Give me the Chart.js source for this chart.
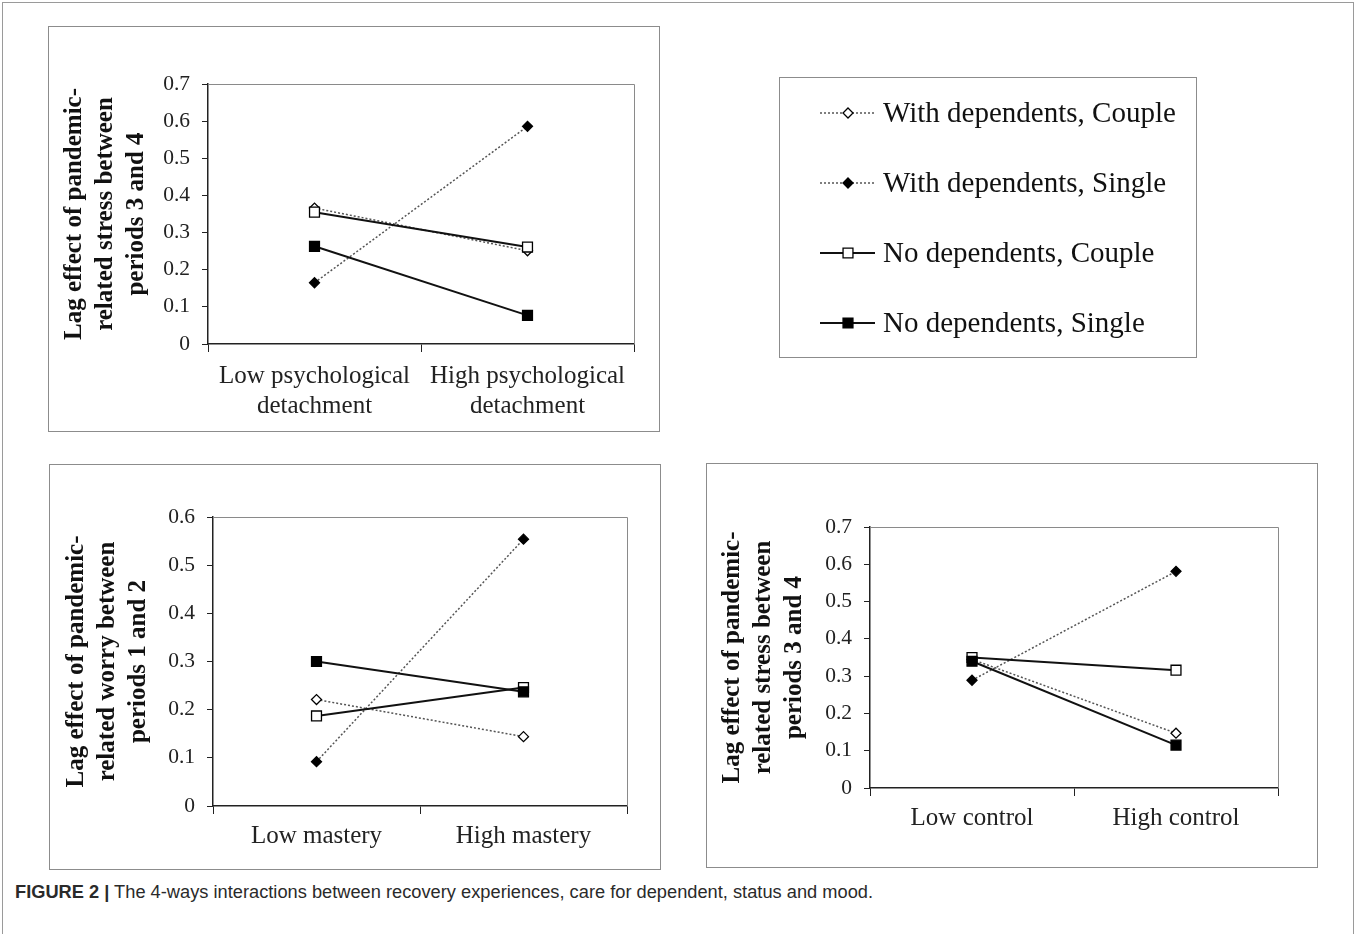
<!DOCTYPE html>
<html><head><meta charset="utf-8">
<script src="https://cdn.jsdelivr.net/npm/chart.js@4.4.0/dist/chart.umd.min.js"></script>
<style>
html,body{margin:0;padding:0;background:#fff;}
body{width:1357px;height:939px;position:relative;overflow:hidden;font-family:"Liberation Serif",serif;}
.page{position:absolute;left:2px;top:2px;width:1352px;height:932px;border:1px solid #9a9a9a;border-bottom:none;box-sizing:border-box;}
.frame{position:absolute;border:1.5px solid #8c8c8c;box-sizing:border-box;}
canvas{position:absolute;}
#caption{position:absolute;left:15px;top:882px;font-family:"Liberation Sans",Arial,sans-serif;font-size:17.5px;color:#2a2a2a;white-space:nowrap;transform-origin:0 0;}
</style></head><body>
<div class="page"></div>
<div class="frame" style="left:48px;top:26px;width:612px;height:406px;"></div>
<div class="frame" style="left:49px;top:464px;width:612px;height:406px;"></div>
<div class="frame" style="left:706px;top:463px;width:612px;height:405px;"></div>
<div class="frame" style="left:779px;top:77px;width:418px;height:281px;"></div>
<canvas id="c1" width="611" height="405" style="left:48px;top:26px;"></canvas>
<canvas id="c2" width="611" height="405" style="left:49px;top:464px;"></canvas>
<canvas id="c3" width="611" height="405" style="left:706px;top:463px;"></canvas>
<canvas id="legend" width="416" height="279" style="left:780px;top:78px;"></canvas>
<div id="caption"><b>FIGURE 2 |</b> The 4-ways interactions between recovery experiences, care for dependent, status and mood.</div>
<script>
// ---------- data ----------
const seriesNames = ['With dependents, Couple','With dependents, Single','No dependents, Couple','No dependents, Single'];

const detachLabels = [['Low psychological','detachment'],['High psychological','detachment']];
const detachWithDepCouple = [0.366, 0.251];
const detachWithDepSingle = [0.165, 0.586];
const detachNoDepCouple   = [0.355, 0.261];
const detachNoDepSingle   = [0.263, 0.077];
const detachTitle = ['Lag effect of pandemic-','related stress between','periods 3 and 4'];
const detachYMax = 0.7;

const masteryLabels = ['Low mastery','High mastery'];
const masteryWithDepCouple = [0.221, 0.144];
const masteryWithDepSingle = [0.092, 0.554];
const masteryNoDepCouple   = [0.187, 0.246];
const masteryNoDepSingle   = [0.300, 0.237];
const masteryTitle = ['Lag effect of pandemic-','related worry between','periods 1 and 2'];
const masteryYMax = 0.6;

const controlLabels = ['Low control','High control'];
const controlWithDepCouple = [0.345, 0.147];
const controlWithDepSingle = [0.289, 0.581];
const controlNoDepCouple   = [0.350, 0.316];
const controlNoDepSingle   = [0.340, 0.115];
const controlTitle = ['Lag effect of pandemic-','related stress between','periods 3 and 4'];
const controlYMax = 0.7;

const yStep = 0.1;

// ---------- styles ----------
const seriesStyle = [
  {dash:[2,2], color:'#555', width:1.5, point:'rectRot', fill:'#fff', r:5, order:4},
  {dash:[2,2], color:'#555', width:1.5, point:'rectRot', fill:'#000', r:5, order:3},
  {dash:[],    color:'#111', width:2,   point:'rect',    fill:'#fff', r:7, order:2},
  {dash:[],    color:'#111', width:2,   point:'rect',    fill:'#000', r:7, order:1}
];
const serif = '"Liberation Serif", "Times New Roman", serif';

const plotBorder = {
  id:'plotBorder',
  beforeDatasetsDraw(chart){
    const {ctx, chartArea:a} = chart;
    ctx.save();
    ctx.strokeStyle = '#8a8a8a'; ctx.lineWidth = 1;
    ctx.beginPath();
    ctx.moveTo(a.left, Math.round(a.top)+0.5);
    ctx.lineTo(Math.round(a.right)+0.5, Math.round(a.top)+0.5);
    ctx.lineTo(Math.round(a.right)+0.5, a.bottom);
    ctx.stroke();
    ctx.restore();
  }
};

function makeChart(id, labels, series, yMax, yTitle, g){
  return new Chart(document.getElementById(id), {
    type:'line',
    data:{
      labels: labels,
      datasets: series.map((d,i)=>{
        const s = seriesStyle[i];
        return {
          label: seriesNames[i], data: d, order: s.order,
          borderColor: s.color, borderWidth: s.width, borderDash: s.dash,
          pointStyle: s.point, pointRadius: s.r, pointHoverRadius: s.r,
          pointBackgroundColor: s.fill, pointBorderColor: '#000', pointBorderWidth: 1.3,
          tension: 0, fill: false, clip: false
        };
      })
    },
    options:{
      responsive:false, animation:false, devicePixelRatio:1, events:[],
      layout:{padding:{top:g.top, right:g.right, left:0, bottom:0}},
      plugins:{legend:{display:false}, tooltip:{enabled:false}},
      scales:{
        x:{
          type:'category', offset:true,
          grid:{offset:true, drawOnChartArea:false, drawTicks:true, tickLength:8, color:'#222', lineWidth:1},
          border:{display:true, color:'#222', width:1.5},
          ticks:{font:{family:serif, size:25, lineHeight:'30px'}, color:'#222', padding:g.xpad, maxRotation:0, autoSkip:false},
          afterFit(s){ s.height = g.xh; }
        },
        y:{
          min:0, max:yMax,
          ticks:{stepSize:yStep, font:{family:serif, size:21.5}, color:'#222', padding:12,
                 callback:v => (Math.abs(v) < 1e-9 ? '0' : v.toFixed(1))},
          grid:{drawOnChartArea:false, drawTicks:true, tickLength:6, color:'#222', lineWidth:1},
          border:{display:true, color:'#222', width:1.5},
          title:{display:true, text:yTitle, color:'#111',
                 font:{family:serif, size:25, weight:'bold', lineHeight:'31px'},
                 padding:{top:g.tpad, bottom:0}},
          afterFit(s){ s.width = g.yw; }
        }
      }
    },
    plugins:[plotBorder]
  });
}

makeChart('c1', detachLabels,
  [detachWithDepCouple, detachWithDepSingle, detachNoDepCouple, detachNoDepSingle],
  detachYMax, detachTitle, {top:58, right:25, yw:160, xh:87, xpad:9, tpad:11.5});
makeChart('c2', masteryLabels,
  [masteryWithDepCouple, masteryWithDepSingle, masteryNoDepCouple, masteryNoDepSingle],
  masteryYMax, masteryTitle, {top:53, right:33, yw:164, xh:63, xpad:7, tpad:12.5});
makeChart('c3', controlLabels,
  [controlWithDepCouple, controlWithDepSingle, controlNoDepCouple, controlNoDepSingle],
  controlYMax, controlTitle, {top:64, right:39, yw:164, xh:80, xpad:7, tpad:11.5});

// ---------- legend ----------
(function(){
  const ctx = document.getElementById('legend').getContext('2d');
  const rows = [35, 105, 175, 245];
  seriesNames.forEach((name,i)=>{
    const s = seriesStyle[i], y = rows[i];
    ctx.save();
    ctx.strokeStyle = s.color; ctx.lineWidth = s.width; ctx.setLineDash(s.dash);
    ctx.beginPath(); ctx.moveTo(40, y); ctx.lineTo(95, y); ctx.stroke();
    ctx.setLineDash([]);
    ctx.fillStyle = s.fill; ctx.strokeStyle = '#000'; ctx.lineWidth = 1.3;
    ctx.beginPath();
    if (s.point === 'rectRot') {
      const r = s.r;
      ctx.moveTo(68, y - r); ctx.lineTo(68 + r, y); ctx.lineTo(68, y + r); ctx.lineTo(68 - r, y); ctx.closePath();
    } else {
      const h = s.r * Math.SQRT1_2;
      ctx.rect(68 - h, y - h, 2*h, 2*h);
    }
    ctx.fill(); ctx.stroke();
    ctx.fillStyle = '#111'; ctx.font = '29px ' + serif; ctx.textBaseline = 'middle';
    ctx.fillText(name, 103, y + 1);
    ctx.restore();
  });
})();

// caption width fit
(function(){
  const c = document.getElementById('caption');
  const w = c.getBoundingClientRect().width;
  c.style.transform = 'scaleX(' + (858 / w) + ')';
})();
</script>
</body></html>
